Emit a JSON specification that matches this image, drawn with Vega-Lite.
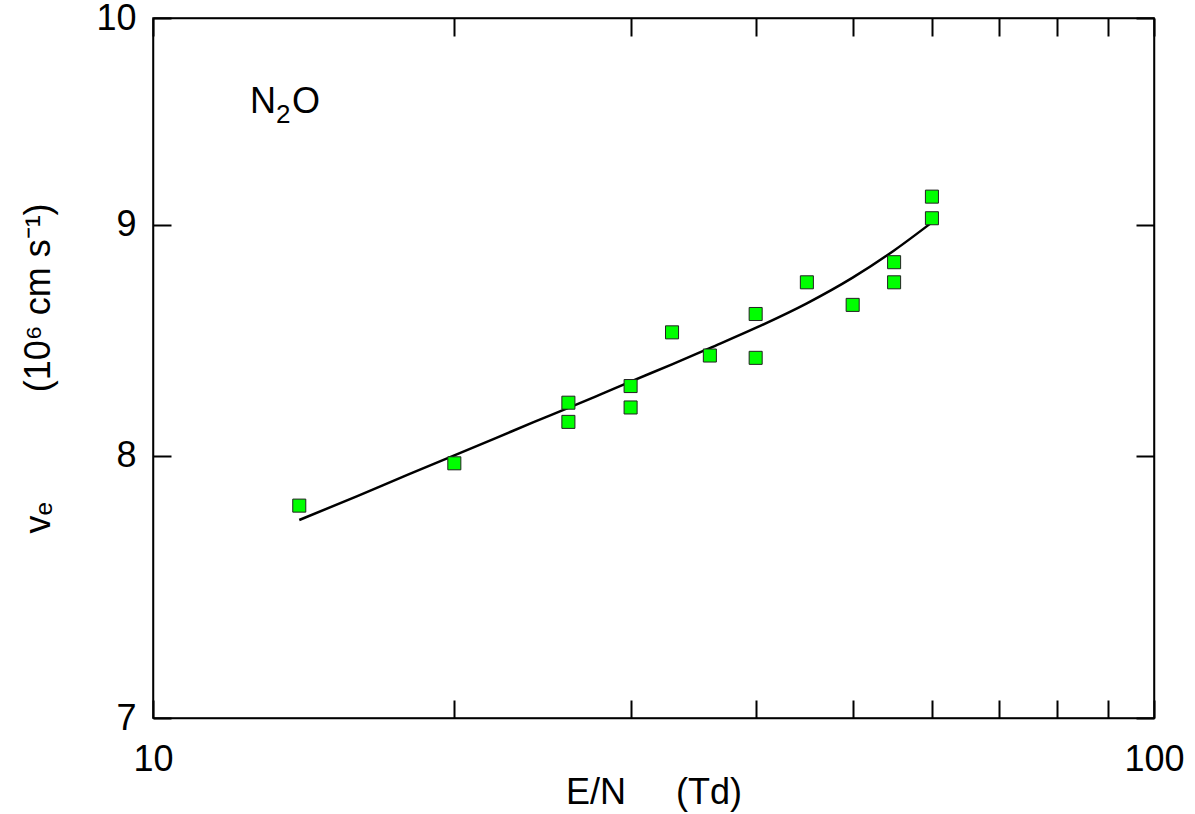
{
  "$schema": "https://vega.github.io/schema/vega-lite/v6.json",
  "width": 1001,
  "height": 700,
  "autosize": "none",
  "padding": {"left": 153, "top": 18, "right": 41, "bottom": 96},
  "background": "white",
  "config": {
    "font": "Liberation Sans",
    "view": {"stroke": "black", "strokeWidth": 1.5},
    "axis": {
      "grid": false,
      "domainColor": "black",
      "domainWidth": 1.5,
      "tickColor": "black",
      "tickWidth": 2,
      "tickSize": -18,
      "labelColor": "black",
      "labelFontSize": 36,
      "labelFont": "Liberation Sans",
      "titleFont": "Liberation Sans",
      "titleFontSize": 36,
      "titleFontWeight": "normal",
      "titleColor": "black",
      "labelOverlap": false,
      "labelFlush": false
    }
  },
  "datasets": {
    "curve": [
      {"en": 14, "ve": 7.743}, {"en": 16, "ve": 7.838}, {"en": 18, "ve": 7.925},
      {"en": 20, "ve": 8.002}, {"en": 22, "ve": 8.073}, {"en": 24, "ve": 8.139},
      {"en": 26, "ve": 8.198}, {"en": 28, "ve": 8.255}, {"en": 30, "ve": 8.309},
      {"en": 33, "ve": 8.382}, {"en": 36, "ve": 8.452}, {"en": 40, "ve": 8.539},
      {"en": 45, "ve": 8.647}, {"en": 50, "ve": 8.761}, {"en": 55, "ve": 8.883},
      {"en": 60, "ve": 9.011}
    ],
    "points": [
      {"en": 14, "ve": 7.80}, {"en": 20, "ve": 7.97},
      {"en": 26, "ve": 8.22}, {"en": 26, "ve": 8.14},
      {"en": 30, "ve": 8.29}, {"en": 30, "ve": 8.20},
      {"en": 33, "ve": 8.52}, {"en": 36, "ve": 8.42},
      {"en": 40, "ve": 8.60}, {"en": 40, "ve": 8.41},
      {"en": 45, "ve": 8.74}, {"en": 50, "ve": 8.64},
      {"en": 55, "ve": 8.83}, {"en": 55, "ve": 8.74},
      {"en": 60, "ve": 9.13}, {"en": 60, "ve": 9.03}
    ],
    "label": [{"en": 12.5, "ve": 9.527}]
  },
  "layer": [
    {
      "data": {"name": "curve"},
      "mark": {"type": "line", "color": "black", "strokeWidth": 2.5, "interpolate": "monotone"},
      "encoding": {
        "x": {
          "field": "en", "type": "quantitative",
          "scale": {"type": "log", "domain": [10, 100], "nice": false},
          "axis": {
            "orient": "bottom",
            "values": [10, 20, 30, 40, 50, 60, 70, 80, 90, 100],
            "labelExpr": "(datum.value == 10 || datum.value == 100) ? format(datum.value, 'd') : ''",
            "labelPadding": 42,
            "title": "E/N\u00a0\u00a0\u00a0\u00a0\u00a0(Td)",
            "titleY": 85,
            "titleBaseline": "alphabetic"
          }
        },
        "y": {
          "field": "ve", "type": "quantitative",
          "scale": {"type": "log", "domain": [7, 10], "nice": false, "zero": false},
          "axis": {
            "orient": "left",
            "values": [7, 8, 9, 10],
            "format": "d",
            "labelPadding": 35,
            "title": "vₑ\u00a0\u00a0\u00a0\u00a0\u00a0\u00a0\u00a0\u00a0\u00a0\u00a0\u00a0(10⁶ cm s⁻¹)",
            "titleX": -115,
            "titleY": 350,
            "titleAngle": -90,
            "titleAlign": "center",
            "titleBaseline": "middle"
          }
        }
      }
    },
    {
      "data": {"name": "points"},
      "mark": {"type": "point", "shape": "square", "filled": true, "fill": "#00ff00", "stroke": "#222222", "strokeWidth": 1, "size": 170, "opacity": 1},
      "encoding": {
        "x": {
          "field": "en", "type": "quantitative",
          "axis": {"orient": "top", "values": [10, 20, 30, 40, 50, 60, 70, 80, 90, 100], "labels": false, "title": null}
        },
        "y": {
          "field": "ve", "type": "quantitative",
          "axis": {"orient": "right", "values": [7, 8, 9, 10], "labels": false, "title": null}
        }
      }
    },
    {
      "data": {"name": "label"},
      "mark": {"type": "text", "text": "N", "fontSize": 36, "align": "left", "baseline": "alphabetic", "color": "black"},
      "encoding": {
        "x": {"field": "en", "type": "quantitative", "axis": null},
        "y": {"field": "ve", "type": "quantitative", "axis": null}
      }
    },
    {
      "data": {"name": "label"},
      "mark": {"type": "text", "text": "2", "fontSize": 26, "align": "left", "baseline": "alphabetic", "dx": 26, "dy": 10, "color": "black"},
      "encoding": {
        "x": {"field": "en", "type": "quantitative", "axis": null},
        "y": {"field": "ve", "type": "quantitative", "axis": null}
      }
    },
    {
      "data": {"name": "label"},
      "mark": {"type": "text", "text": "O", "fontSize": 36, "align": "left", "baseline": "alphabetic", "dx": 42, "color": "black"},
      "encoding": {
        "x": {"field": "en", "type": "quantitative", "axis": null},
        "y": {"field": "ve", "type": "quantitative", "axis": null}
      }
    }
  ]
}
